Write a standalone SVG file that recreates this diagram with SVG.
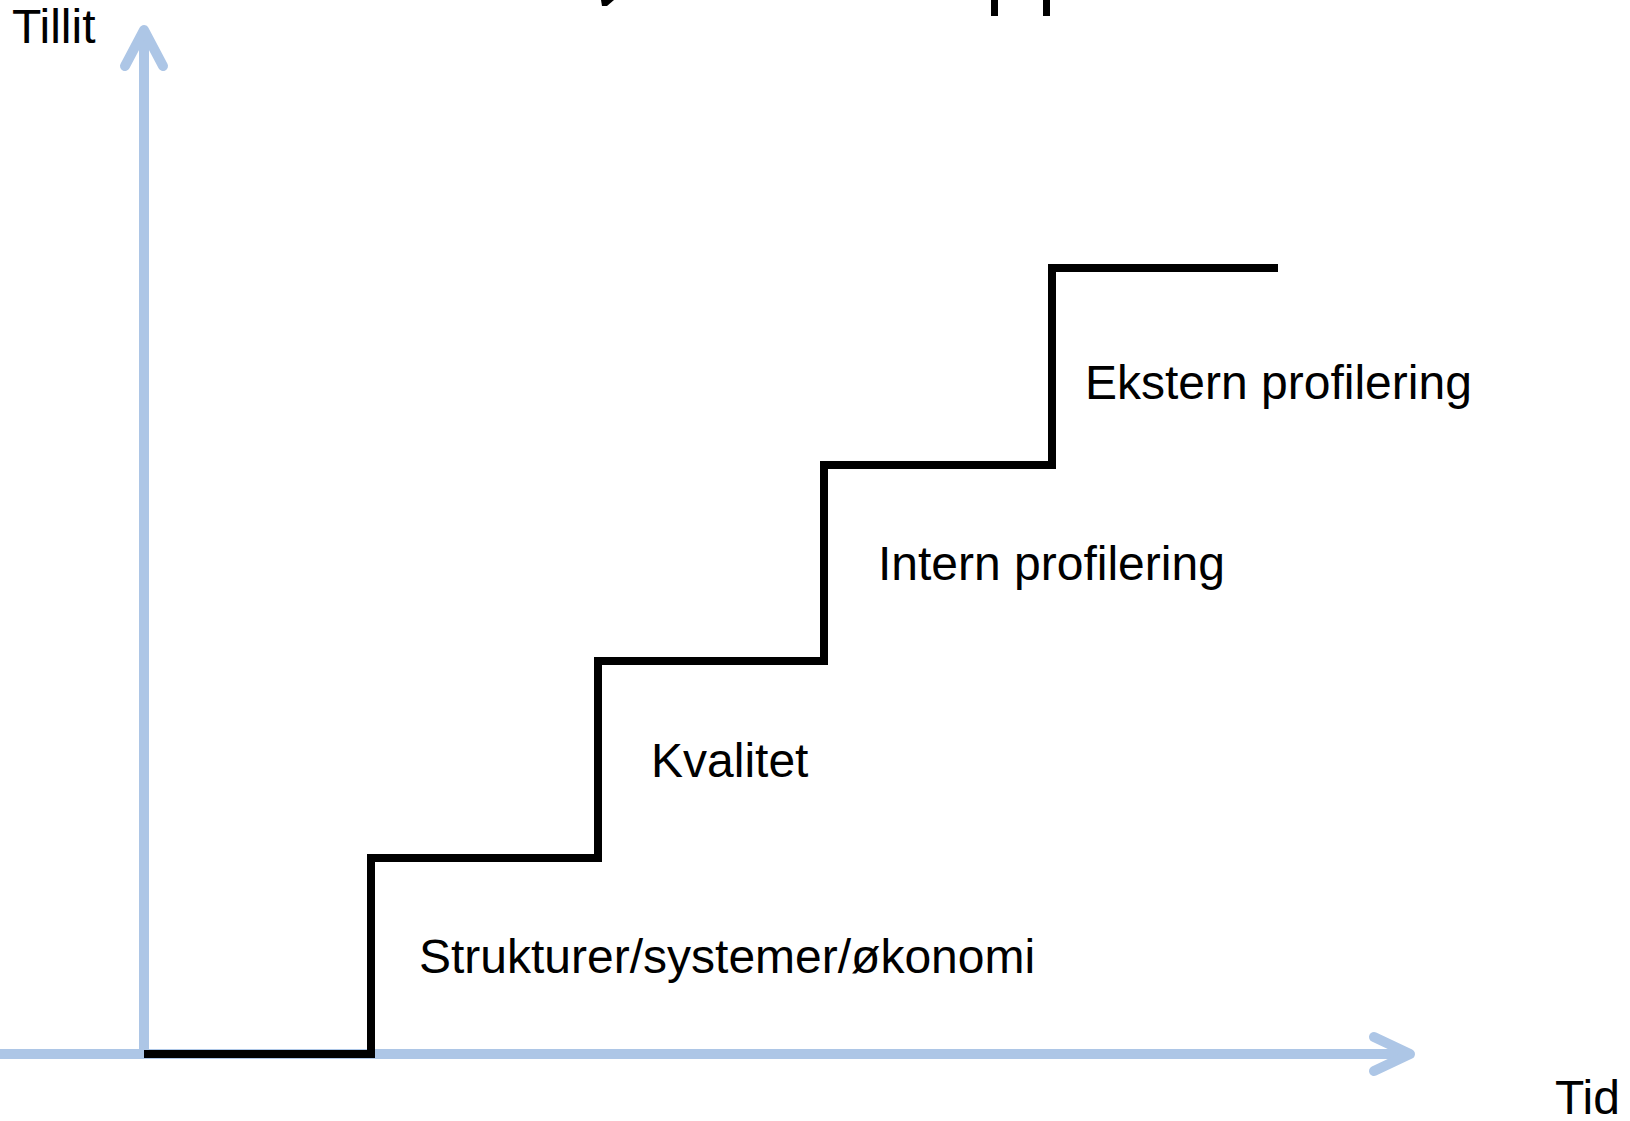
<svg xmlns="http://www.w3.org/2000/svg" width="1630" height="1121" viewBox="0 0 1630 1121">
<style>
.axis{stroke:#adc6e6;stroke-width:10;fill:none;stroke-linecap:round;stroke-linejoin:round}
.axisline{stroke:#adc6e6;stroke-width:10;fill:none;stroke-linecap:butt}
.stair{stroke:#000;stroke-width:8;fill:none;stroke-linejoin:miter;stroke-linecap:butt}
.lbl{font-family:"Liberation Sans",Arial,sans-serif;font-size:48px;fill:#000}
</style>
<rect width="1630" height="1121" fill="#fff"/>
<g id="title-fragments" fill="#000">
<polygon points="601,0 614,0 607,6 602,6"/>
<rect x="991" y="0" width="7" height="16"/>
<rect x="1043" y="0" width="7" height="16"/>
</g>
<g id="connectors">
<line class="axisline" x1="144" y1="1054" x2="144" y2="30"/>
<polyline class="axis" points="125,66 144,30 163,66"/>
<line class="axisline" x1="0" y1="1054" x2="1408" y2="1054"/>
<polyline class="axis" points="1374,1037 1410,1054 1374,1071"/>
<polyline class="stair" points="144,1054 371,1054 371,858 598,858 598,661 824,661 824,465 1052,465 1052,268 1278,268"/>
</g>
<g id="label-tillit"><text class="lbl" x="12" y="43">Tillit</text></g>
<g id="label-tid"><text class="lbl" x="1555" y="1114">Tid</text></g>
<g id="step-1"><text class="lbl" x="419" y="973">Strukturer/systemer/økonomi</text></g>
<g id="step-2"><text class="lbl" x="651" y="777">Kvalitet</text></g>
<g id="step-3"><text class="lbl" x="878" y="580">Intern profilering</text></g>
<g id="step-4"><text class="lbl" x="1085" y="399">Ekstern profilering</text></g>
</svg>
